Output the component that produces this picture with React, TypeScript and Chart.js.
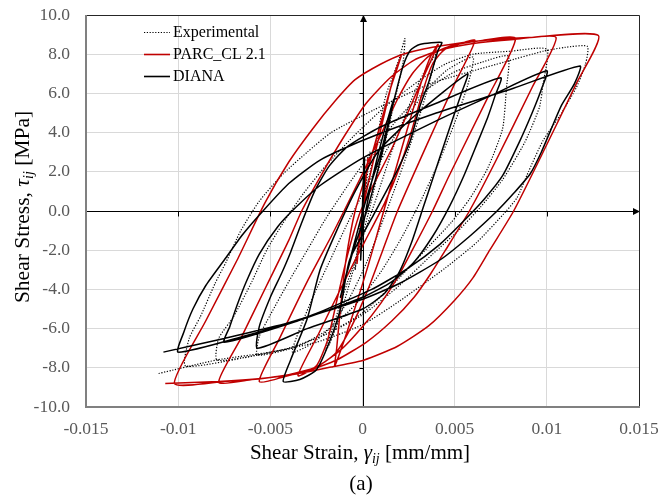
import React, { useEffect, useRef } from "react";
import { Chart, registerables } from "chart.js";

Chart.register(...registerables);

type Pt = [number, number];

// ---- axis ticks ----
const xTickValues = [-0.015, -0.01, -0.005, 0, 0.005, 0.01, 0.015];
const xTickLabels = ["-0.015", "-0.01", "-0.005", "0", "0.005", "0.01", "0.015"];
const yTickValues = [-10, -8, -6, -4, -2, 0, 2, 4, 6, 8, 10];
const yTickLabels = ["-10.0", "-8.0", "-6.0", "-4.0", "-2.0", "0.0", "2.0", "4.0", "6.0", "8.0", "10.0"];

const seriesNames = ["Experimental", "PARC_CL 2.1", "DIANA"];

// ---- Experimental (strain, stress) ----
const experimental: Pt[] = [
  [0, 0], [0.0002, 1.5], [0.0004, 3.0], [0.0001, 0.5], [-0.0002, -1.5], [-0.0004, -3.0], [-0.0001, -0.5],
  [0.0003, 1.5], [0.0007, 3.2], [0.001, 4.8], [0.0013, 6.0], [0.0017, 7.0], [0.002, 7.8], [0.0023, 8.8], [0.0022, 7.6],
  [0.0016, 5.0], [0.001, 2.6], [0.0004, 0.2], [-0.0002, -2.0], [-0.0008, -4.0], [-0.0013, -5.6], [-0.0018, -6.8], [-0.002, -7.1],
  [-0.0015, -5.6], [-0.0008, -3.6], [0.0, -1.4], [0.0008, 0.8], [0.0015, 2.8], [0.0022, 4.6], [0.0028, 6.0], [0.0033, 7.0], [0.0037, 7.6], [0.004, 8.0],
  [0.0034, 5.8], [0.0026, 3.4], [0.0017, 1.0], [0.0009, -1.0], [0.0001, -2.9], [-0.0008, -4.6], [-0.0018, -6.0], [-0.0028, -6.8], [-0.0038, -7.2],
  [-0.0034, -6.0], [-0.0026, -4.2], [-0.0017, -2.4], [-0.0008, -0.6], [0.0002, 1.2], [0.0013, 3.1], [0.0024, 4.8], [0.0035, 6.2], [0.0046, 7.2], [0.006, 7.85],
  [0.0057, 6.4], [0.005, 4.5], [0.0041, 2.4], [0.0031, 0.4], [0.0021, -1.4], [0.001, -3.1], [-0.0003, -4.7], [-0.0018, -6.0], [-0.0035, -6.9], [-0.0057, -7.35],
  [-0.0056, -6.4], [-0.005, -5.3], [-0.004, -3.6], [-0.003, -2.0], [-0.002, -0.4], [-0.0008, 1.3], [0.0005, 3.0], [0.002, 4.8], [0.0035, 6.2], [0.005, 7.1], [0.0065, 7.6], [0.0079, 7.9],
  [0.0078, 6.2], [0.0076, 4.2], [0.0068, 2.2], [0.0058, 0.6], [0.0048, -0.6], [0.0035, -1.9], [0.0018, -3.6], [0.0, -5.2], [-0.002, -6.3], [-0.004, -7.0], [-0.006, -7.4], [-0.0079, -7.6],
  [-0.0078, -6.5], [-0.007, -5.4], [-0.006, -3.6], [-0.0052, -2.0], [-0.0043, -0.6], [-0.0032, 0.9], [-0.002, 2.3], [-0.0005, 3.8], [0.0012, 5.3], [0.003, 6.6], [0.0045, 7.5], [0.006, 8.0], [0.008, 8.15], [0.01, 8.25],
  [0.0098, 6.5], [0.0096, 5.3], [0.0088, 3.5], [0.0076, 1.6], [0.0064, 0.2], [0.0052, -1.0], [0.0038, -2.2], [0.002, -3.8], [0.0, -5.3], [-0.002, -6.3], [-0.004, -7.0], [-0.0065, -7.5], [-0.0096, -7.9],
  [-0.0094, -6.5], [-0.0088, -5.4], [-0.008, -3.7], [-0.0074, -2.6], [-0.0066, -1.0], [-0.0056, 0.5], [-0.0043, 1.9], [-0.003, 3.0], [-0.0017, 4.0], [0.0006, 5.15], [0.0037, 6.5], [0.0077, 7.6], [0.0098, 8.15], [0.011, 8.35], [0.0122, 8.4],
  [0.0121, 7.5], [0.0116, 6.3], [0.0108, 5.0], [0.0098, 3.6], [0.009, 2.0], [0.0084, 0.7], [0.0078, 0.0], [0.0062, -1.6], [0.0045, -2.9], [0.002, -4.6], [0.0, -5.8], [-0.0025, -6.7], [-0.005, -7.2], [-0.0079, -7.6], [-0.0111, -8.3],
];

// ---- PARC_CL 2.1 (strain, stress) ----
const parcCl: Pt[] = [
  [0, 0], [0.0003, 2.7], [0, 0], [-0.0003, -2.7], [0, 0],
  [0.0006, 2.6], [0.0012, 5.0], [0.0017, 6.9], [0.0021, 7.9],
  [0.0015, 6.2], [0.0004, 2.5], [-0.0004, 0], [-0.0009, -2.5], [-0.0012, -5.0], [-0.0014, -7.0], [-0.0015, -7.9],
  [-0.0006, -5.5], [0.0003, -2.8], [0.001, -0.5], [0.0017, 1.8], [0.0025, 4.4], [0.0032, 6.6], [0.0037, 7.9], [0.0041, 8.5],
  [0.0031, 6.4], [0.0016, 3.2], [-0.0001, 0], [-0.0008, -2.2], [-0.0014, -4.6], [-0.0019, -6.6], [-0.0025, -7.9], [-0.0035, -8.4],
  [-0.0024, -6.3], [-0.0011, -3.8], [0.0001, -1.6], [0.0012, 0.4], [0.002, 2.2], [0.0027, 4.2], [0.0033, 6.2], [0.0038, 7.5], [0.0044, 8.2], [0.0052, 8.5], [0.0061, 8.7],
  [0.005, 6.5], [0.0035, 3.4], [0.0019, 0], [0.0011, -2.0], [0.0003, -4.0], [-0.0006, -5.9], [-0.0015, -7.3], [-0.0026, -8.0], [-0.004, -8.4], [-0.0056, -8.7],
  [-0.0045, -6.5], [-0.003, -3.6], [-0.0017, -1.3], [-0.001, 0], [0.0, 1.9], [0.001, 3.9], [0.0019, 5.7], [0.0027, 7.0], [0.0036, 7.9], [0.0047, 8.4], [0.0065, 8.7], [0.0083, 8.8],
  [0.0068, 5.8], [0.0047, 1.8], [0.0038, 0], [0.0027, -2.0], [0.0019, -3.4], [0.001, -4.7], [0.0, -5.9], [-0.0012, -7.1], [-0.0025, -7.95], [-0.004, -8.35], [-0.006, -8.6], [-0.0078, -8.75],
  [-0.0066, -6.5], [-0.0052, -3.8], [-0.004, -1.5], [-0.0033, 0], [-0.0022, 1.9], [-0.001, 3.8], [0.0002, 5.5], [0.0015, 6.8], [0.0028, 7.7], [0.0042, 8.2], [0.006, 8.55], [0.0082, 8.75], [0.0105, 8.85],
  [0.0092, 6.3], [0.0072, 2.5], [0.0058, 0], [0.0045, -2.0], [0.0037, -3.2], [0.0028, -4.4], [0.0016, -5.6], [0.0002, -6.7], [-0.0014, -7.6], [-0.003, -8.15], [-0.005, -8.5], [-0.0075, -8.7], [-0.0102, -8.8],
  [-0.0085, -5.6], [-0.0068, -2.5], [-0.0053, 0.4], [-0.004, 2.5], [-0.0027, 4.2], [-0.0015, 5.6], [-0.0004, 6.7], [0.001, 7.5], [0.0022, 8.0], [0.0038, 8.35], [0.006, 8.65], [0.009, 8.85], [0.0128, 8.95],
  [0.0116, 6.5], [0.0099, 3.2], [0.0082, 0], [0.0069, -2.0], [0.006, -3.4], [0.005, -4.55], [0.0036, -5.85], [0.0019, -6.9], [0.0001, -7.6], [-0.0017, -7.96], [-0.0035, -8.3], [-0.0055, -8.55], [-0.0078, -8.7], [-0.0107, -8.8],
];

// ---- DIANA (strain, stress) ----
const diana: Pt[] = [
  [0, 0], [0.0001, 1.4], [0.0001, 2.7], [0.0, 0.3], [-0.0001, -2.5], [0.0, -1.0],
  [0.0005, 1.5], [0.0011, 3.8], [0.0017, 5.7],
  [0.0012, 3.5], [0.0003, 0.2], [-0.0005, -2.0], [-0.0012, -4.4],
  [-0.0006, -2.2], [0.0002, 0.6], [0.001, 3.0], [0.0018, 6.0], [0.0022, 7.4], [0.0026, 8.2], [0.0031, 8.5], [0.0043, 8.6],
  [0.0041, 8.2], [0.0036, 6.6], [0.0031, 5.3], [0.0026, 3.6], [0.0019, 2.1], [0.0006, -0.2], [-0.0007, -2.5], [-0.0012, -5.0], [-0.0018, -6.7], [-0.0025, -8.1], [-0.0034, -8.6], [-0.0043, -8.7],
  [-0.0039, -7.6], [-0.003, -5.5], [-0.0023, -3.0], [-0.0014, -1.0], [-0.0004, 1.0], [0.0009, 3.1], [0.003, 5.0], [0.0057, 7.0],
  [0.0054, 6.1], [0.005, 5.0], [0.0045, 3.6], [0.0039, 1.9], [0.0033, 0.2], [0.0027, -1.5], [0.002, -3.1], [0.0012, -4.2], [0.0, -5.0], [-0.003, -6.0], [-0.0057, -7.0],
  [-0.0056, -5.9], [-0.005, -4.4], [-0.0044, -3.2], [-0.0039, -2.1], [-0.0033, -0.6], [-0.0026, 1.0], [-0.0018, 2.3], [-0.0008, 3.3], [0.001, 4.3], [0.004, 5.5], [0.0075, 6.8],
  [0.0072, 5.9], [0.0068, 4.8], [0.0062, 3.4], [0.0055, 1.8], [0.0047, 0.2], [0.0038, -1.3], [0.0028, -2.6], [0.0016, -3.6], [0.0, -4.4], [-0.0035, -5.6], [-0.0075, -6.7],
  [-0.0072, -5.9], [-0.0068, -4.8], [-0.0063, -3.6], [-0.0056, -2.2], [-0.0046, -0.8], [-0.0036, 0.2], [-0.0023, 1.3], [0.0, 2.7], [0.004, 4.6], [0.007, 5.9], [0.01, 7.15],
  [0.0097, 6.2], [0.0092, 5.0], [0.0085, 3.5], [0.0076, 1.8], [0.0066, 0.6], [0.0055, -0.5], [0.0042, -1.7], [0.0025, -2.9], [0.0005, -4.0], [-0.003, -5.4], [-0.0065, -6.4], [-0.01, -7.2],
  [-0.0097, -6.2], [-0.0092, -5.0], [-0.0085, -3.8], [-0.0075, -2.5], [-0.0065, -1.2], [-0.0054, 0.0], [-0.004, 1.4], [-0.0023, 2.6], [0.0, 3.6], [0.004, 5.0], [0.008, 6.2], [0.0118, 7.4],
  [0.0115, 6.5], [0.0108, 5.4], [0.0102, 4.1], [0.0097, 3.0], [0.0091, 1.9], [0.0082, 0.9], [0.0073, 0.0], [0.0058, -1.3], [0.0042, -2.5], [0.002, -3.7], [0.0, -4.5], [-0.004, -5.7], [-0.0075, -6.5], [-0.0108, -7.2],
];

const RED = "#c00000";
const SERIF = "'Liberation Serif', 'Times New Roman', serif";

type Part = { t: string; f: string; dy?: number };

function drawRich(ctx: CanvasRenderingContext2D, parts: Part[], cx: number, y: number) {
  let total = 0;
  for (const p of parts) {
    ctx.font = p.f;
    total += ctx.measureText(p.t).width;
  }
  let x = cx - total / 2;
  ctx.textAlign = "left";
  ctx.textBaseline = "alphabetic";
  for (const p of parts) {
    ctx.font = p.f;
    ctx.fillText(p.t, x, y + (p.dy || 0));
    x += ctx.measureText(p.t).width;
  }
}

const decorPlugin = {
  id: "decor",
  beforeDatasetsDraw(chart: any) {
    const { ctx, chartArea: a, scales } = chart;
    const xs = scales.x;
    const ys = scales.y;
    const x0 = Math.round(xs.getPixelForValue(0)) + 0.5;
    const y0 = Math.round(ys.getPixelForValue(0)) + 0.5;
    ctx.save();
    ctx.strokeStyle = "#000";
    ctx.lineWidth = 1;
    ctx.beginPath();
    ctx.moveTo(a.left, y0);
    ctx.lineTo(a.right - 4, y0);
    ctx.moveTo(x0, a.bottom);
    ctx.lineTo(x0, a.top + 4);
    for (const v of xTickValues) {
      const px = Math.round(xs.getPixelForValue(v)) + 0.5;
      ctx.moveTo(px, y0);
      ctx.lineTo(px, y0 + 5);
    }
    for (const v of yTickValues) {
      const py = Math.round(ys.getPixelForValue(v)) + 0.5;
      ctx.moveTo(x0, py);
      ctx.lineTo(x0 - 4, py);
    }
    ctx.stroke();
    ctx.fillStyle = "#000";
    ctx.beginPath();
    ctx.moveTo(a.right + 1, y0);
    ctx.lineTo(a.right - 6, y0 - 3.5);
    ctx.lineTo(a.right - 6, y0 + 3.5);
    ctx.closePath();
    ctx.fill();
    ctx.beginPath();
    ctx.moveTo(x0, a.top);
    ctx.lineTo(x0 - 3.5, a.top + 7);
    ctx.lineTo(x0 + 3.5, a.top + 7);
    ctx.closePath();
    ctx.fill();
    ctx.restore();
  },
  afterDraw(chart: any) {
    const { ctx, chartArea: a } = chart;
    ctx.save();
    ctx.lineWidth = 1;
    ctx.strokeStyle = "#262626";
    ctx.beginPath();
    ctx.moveTo(a.left, a.top + 0.5);
    ctx.lineTo(a.right + 0.5, a.top + 0.5);
    ctx.lineTo(a.right + 0.5, a.bottom);
    ctx.stroke();
    ctx.lineWidth = 2;
    ctx.strokeStyle = "#808080";
    ctx.beginPath();
    ctx.moveTo(a.left, a.top);
    ctx.lineTo(a.left, a.bottom);
    ctx.lineTo(a.right + 1, a.bottom);
    ctx.stroke();

    // legend
    const rows = [
      { name: seriesNames[0], color: "#000", dash: [1.2, 1.6], w: 1.2 },
      { name: seriesNames[1], color: RED, dash: [], w: 1.6 },
      { name: seriesNames[2], color: "#000", dash: [], w: 1.6 },
    ];
    const rowY = [32, 54, 76];
    rows.forEach((r, i) => {
      ctx.strokeStyle = r.color;
      ctx.lineWidth = r.w;
      ctx.setLineDash(r.dash);
      ctx.beginPath();
      ctx.moveTo(144, rowY[i] + 0.5);
      ctx.lineTo(170, rowY[i] + 0.5);
      ctx.stroke();
      ctx.setLineDash([]);
      ctx.fillStyle = "#000";
      ctx.font = `16px ${SERIF}`;
      ctx.textAlign = "left";
      ctx.textBaseline = "middle";
      ctx.fillText(r.name, 173, rowY[i] + 1);
    });

    // axis titles
    ctx.fillStyle = "#000";
    drawRich(
      ctx,
      [
        { t: "Shear Strain, ", f: `21px ${SERIF}` },
        { t: "γ", f: `italic 21px ${SERIF}` },
        { t: "ij", f: `italic 14px ${SERIF}`, dy: 4 },
        { t: " [mm/mm]", f: `21px ${SERIF}` },
      ],
      360,
      459
    );
    drawRich(ctx, [{ t: "(a)", f: `21px ${SERIF}` }], 361, 490);
    ctx.save();
    ctx.translate(29, 207);
    ctx.rotate(-Math.PI / 2);
    drawRich(
      ctx,
      [
        { t: "Shear Stress, ", f: `21.5px ${SERIF}` },
        { t: "τ", f: `italic 21.5px ${SERIF}` },
        { t: "ij", f: `italic 14px ${SERIF}`, dy: 4 },
        { t: " [MPa]", f: `21.5px ${SERIF}` },
      ],
      0,
      0
    );
    ctx.restore();
    ctx.restore();
  },
};

const zeroPad = (scale: any) => {
  scale.paddingTop = 0;
  scale.paddingBottom = 0;
  scale.paddingLeft = 0;
  scale.paddingRight = 0;
};

export default function App() {
  const canvasRef = useRef<HTMLCanvasElement | null>(null);

  useEffect(() => {
    const canvas = canvasRef.current;
    if (!canvas) return;
    const toXY = (pts: Pt[]) => pts.map(([x, y]) => ({ x, y }));
    const chart = new Chart(canvas, {
      type: "scatter",
      data: {
        datasets: [
          {
            label: seriesNames[0],
            data: toXY(experimental),
            showLine: true,
            borderColor: "#000",
            borderWidth: 1.2,
            borderDash: [1.2, 1.6],
            pointRadius: 0,
            tension: 0.2,
            order: 3,
          },
          {
            label: seriesNames[1],
            data: toXY(parcCl),
            showLine: true,
            borderColor: RED,
            borderWidth: 1.5,
            pointRadius: 0,
            tension: 0.2,
            order: 2,
          },
          {
            label: seriesNames[2],
            data: toXY(diana),
            showLine: true,
            borderColor: "#000",
            borderWidth: 1.5,
            pointRadius: 0,
            tension: 0.2,
            order: 1,
          },
        ],
      },
      options: {
        animation: false,
        responsive: false,
        devicePixelRatio: 1,
        layout: { padding: { left: 0, top: 15, right: 23, bottom: 0 } },
        plugins: { legend: { display: false }, tooltip: { enabled: false } },
        scales: {
          x: {
            type: "linear",
            min: -0.015,
            max: 0.015,
            afterBuildTicks: (scale: any) => {
              scale.ticks = xTickValues.map((v) => ({ value: v }));
            },
            afterFit: (scale: any) => {
              scale.height = 92;
              zeroPad(scale);
            },
            ticks: {
              padding: 12,
              color: "#595959",
              font: { family: SERIF, size: 17.5 },
              maxRotation: 0,
              autoSkip: false,
              callback: (v: any) => {
                const i = xTickValues.findIndex((t) => Math.abs(t - Number(v)) < 1e-9);
                return i >= 0 ? xTickLabels[i] : "";
              },
            },
            grid: { color: "#d9d9d9", lineWidth: 1, drawTicks: false },
            border: { display: false },
          },
          y: {
            type: "linear",
            min: -10,
            max: 10,
            afterBuildTicks: (scale: any) => {
              scale.ticks = yTickValues.map((v) => ({ value: v }));
            },
            afterFit: (scale: any) => {
              scale.width = 86;
              zeroPad(scale);
            },
            ticks: {
              padding: 16,
              color: "#595959",
              font: { family: SERIF, size: 17.5 },
              autoSkip: false,
              callback: (v: any) => {
                const i = yTickValues.findIndex((t) => Math.abs(t - Number(v)) < 1e-9);
                return i >= 0 ? yTickLabels[i] : "";
              },
            },
            grid: { color: "#d9d9d9", lineWidth: 1, drawTicks: false },
            border: { display: false },
          },
        },
      },
      plugins: [decorPlugin],
    } as any);
    return () => chart.destroy();
  }, []);

  return (
    <div style={{ position: "absolute", left: 0, top: 0, width: 662, height: 499, background: "#fff" }}>
      <canvas ref={canvasRef} width={662} height={499} style={{ width: 662, height: 499, display: "block" }} />
    </div>
  );
}
